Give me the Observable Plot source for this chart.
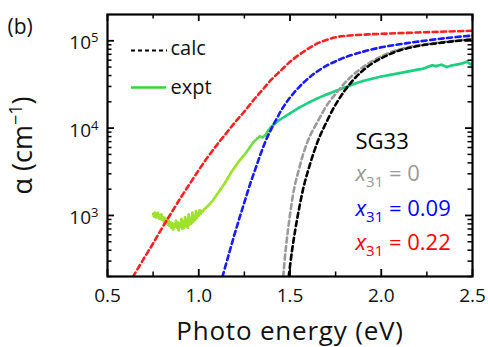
<!DOCTYPE html>
<html>
<head>
<meta charset="utf-8">
<script src="https://cdn.jsdelivr.net/npm/d3@7"></script>
<script src="https://cdn.jsdelivr.net/npm/@observablehq/plot@0.6"></script>
<style>
  html, body { margin: 0; padding: 0; background: white; }
  svg { display: block; }
</style>
</head>
<body>
<div id="chart"></div>
<script>
// ---- Scale domains and tick positions ----
const xDomain = [0.5, 2.5];
const yDomain = [200, 2e5];
const xMajor = [0.5, 1.0, 1.5, 2.0, 2.5];
const xMinor = [0.75, 1.25, 1.75, 2.25];
const yMajor = [1e3, 1e4, 1e5];
const yMinor = [200, 300, 400, 500, 600, 700, 800, 900,
                2000, 3000, 4000, 5000, 6000, 7000, 8000, 9000,
                20000, 30000, 40000, 50000, 60000, 70000, 80000, 90000];

// ---- calc, x31 = 0.22 (red) : photon energy (eV), log10 alpha ----
const redE   = [0.64, 0.70, 0.75, 0.80, 0.85, 0.90, 0.95, 1.00, 1.05, 1.10, 1.15, 1.20, 1.25, 1.30, 1.35, 1.40, 1.45, 1.50, 1.55, 1.60, 1.65, 1.70, 1.75, 1.80, 1.90, 2.00, 2.20, 2.50];
const redLog = [2.30, 2.51, 2.68, 2.86, 3.03, 3.20, 3.36, 3.52, 3.67, 3.81, 3.94, 4.07, 4.19, 4.32, 4.44, 4.56, 4.66, 4.76, 4.84, 4.91, 4.97, 5.01, 5.04, 5.055, 5.07, 5.08, 5.095, 5.115];

// ---- calc, x31 = 0.09 (blue) ----
const blueE   = [1.13, 1.16, 1.19, 1.22, 1.25, 1.28, 1.31, 1.34, 1.37, 1.40, 1.43, 1.46, 1.50, 1.55, 1.60, 1.65, 1.70, 1.75, 1.80, 1.90, 2.00, 2.10, 2.20, 2.35, 2.50];
const blueLog = [2.30, 2.52, 2.74, 2.95, 3.15, 3.35, 3.53, 3.71, 3.87, 4.00, 4.12, 4.23, 4.35, 4.47, 4.57, 4.65, 4.715, 4.765, 4.81, 4.875, 4.925, 4.96, 4.99, 5.03, 5.06];

// ---- calc, x31 = 0 (black and grey) ----
const blackE   = [1.493, 1.51, 1.53, 1.55, 1.575, 1.60, 1.63, 1.66, 1.70, 1.75, 1.80, 1.85, 1.90, 1.95, 2.00, 2.05, 2.10, 2.20, 2.30, 2.40, 2.50];
const blackLog = [2.30, 2.58, 2.85, 3.08, 3.33, 3.52, 3.72, 3.89, 4.07, 4.27, 4.43, 4.56, 4.66, 4.74, 4.80, 4.85, 4.89, 4.94, 4.97, 4.995, 5.015];
const grayE   = [1.463, 1.475, 1.49, 1.505, 1.525, 1.548, 1.575, 1.605, 1.65, 1.705, 1.765, 1.82, 1.875, 1.93, 1.98, 2.03, 2.08, 2.18, 2.30, 2.40, 2.50];
const grayLog = [2.30, 2.58, 2.85, 3.08, 3.33, 3.52, 3.72, 3.89, 4.07, 4.27, 4.43, 4.56, 4.66, 4.74, 4.80, 4.85, 4.89, 4.94, 4.975, 5.00, 5.02];

// ---- expt (green) ----
const exptE = [0.750, 0.755, 0.760, 0.765, 0.770, 0.775, 0.780, 0.785, 0.790, 0.795,
  0.800, 0.805, 0.810, 0.815, 0.820, 0.825, 0.830, 0.835, 0.840, 0.845,
  0.850, 0.855, 0.860, 0.865, 0.870, 0.875, 0.880, 0.885, 0.890, 0.895,
  0.900, 0.905, 0.910, 0.915, 0.920, 0.925, 0.930, 0.935, 0.940, 0.945,
  0.950, 0.955, 0.960, 0.965, 0.970, 0.975, 0.980, 0.985, 0.990, 0.995,
  1.000, 1.005, 1.010, 1.015, 1.020, 1.030, 1.040, 1.050, 1.060, 1.080,
  1.100, 1.120, 1.140, 1.160, 1.180, 1.200, 1.220, 1.240, 1.260, 1.280,
  1.300, 1.320, 1.335, 1.350, 1.365, 1.380, 1.395, 1.410, 1.440, 1.470,
  1.500, 1.550, 1.600, 1.650, 1.700, 1.750, 1.800, 1.850, 1.900, 1.950,
  2.000, 2.050, 2.100, 2.150, 2.200, 2.230, 2.260, 2.280, 2.300, 2.330,
  2.360, 2.390, 2.420, 2.450, 2.470, 2.490, 2.500];
const exptLog = [3.02, 2.99, 3.03, 2.98, 3.01, 3.03, 2.97, 3.00, 2.96, 3.01,
  2.95, 2.98, 2.93, 2.97, 2.92, 2.95, 2.90, 2.94, 2.88, 2.92,
  2.86, 2.91, 2.84, 2.90, 2.87, 2.94, 2.86, 2.92, 2.83, 2.91,
  2.87, 2.96, 2.85, 2.93, 2.86, 2.98, 2.88, 2.95, 2.86, 3.01,
  2.90, 2.97, 2.91, 3.03, 2.93, 2.99, 2.95, 3.05, 2.97, 3.02,
  3.00, 3.06, 3.02, 3.05, 3.04, 3.07, 3.09, 3.11, 3.13, 3.18,
  3.24, 3.30, 3.36, 3.43, 3.50, 3.56, 3.62, 3.67, 3.72, 3.78,
  3.84, 3.88, 3.905, 3.895, 3.92, 3.97, 4.01, 4.04, 4.09, 4.13,
  4.17, 4.235, 4.29, 4.34, 4.385, 4.425, 4.465, 4.505, 4.54, 4.565,
  4.59, 4.61, 4.63, 4.65, 4.67, 4.68, 4.705, 4.72, 4.71, 4.725,
  4.70, 4.72, 4.73, 4.745, 4.76, 4.73, 4.75];

// ---- annotation texts ----
const annoLabels = ["SG33", "x_31 = 0", "x_31 = 0.09", "x_31 = 0.22"];
const annoColors = ["#000000", "#999999", "#0000ff", "#ff0000"];
const legendLabels = ["calc", "expt"];

// ---- build tables ----
const toRows = (E, L) => E.map((e, i) => ({e, a: Math.pow(10, L[i])}));
const red = toRows(redE, redLog);
const blue = toRows(blueE, blueLog);
const black = toRows(blackE, blackLog);
const gray = toRows(grayE, grayLog);
const expt = toRows(exptE, exptLog);

const gLow = "#9ee22e", gHigh = "#1ecf80";
const mix = d3.interpolateRgb(gLow, gHigh);
const colorAt = e => e <= 1.22 ? gLow : e >= 1.46 ? gHigh : mix((e - 1.22) / 0.24);
const exptSegs = expt.slice(1).map((d, i) => ({
  e1: expt[i].e, a1: expt[i].a, e2: d.e, a2: d.a, c: colorAt((expt[i].e + d.e) / 2)
}));

// ---- layout ----
const W = 488, H = 347, mL = 107, mR = 16, mT = 14, mB = 71;
const fw = W - mL - mR, fh = H - mT - mB;
const majLen = 7, minLen = 4.5;

const dash = "5,3.5";
const calcStyle = {x: "e", y: "a", strokeWidth: 2.6, strokeDasharray: dash, curve: "catmull-rom", clip: true};
const tkMaj = {stroke: "black", strokeWidth: 1.8};
const tkMin = {stroke: "black", strokeWidth: 1.5};

const chart = Plot.plot({
  width: W,
  height: H,
  marginLeft: mL,
  marginRight: mR,
  marginTop: mT,
  marginBottom: mB,
  x: {type: "linear", domain: xDomain, axis: null},
  y: {type: "log", domain: yDomain, axis: null},
  color: {type: "identity"},
  style: {fontFamily: "'Open Sans', sans-serif", fontSize: "19px", background: "white", color: "black"},
  marks: [
    // experimental curve
    Plot.link(exptSegs, {x1: "e1", y1: "a1", x2: "e2", y2: "a2", stroke: "c", strokeWidth: 2.6, strokeLinecap: "round", clip: true}),
    // calculated curves
    Plot.line(gray, {...calcStyle, stroke: "#9a9a9a"}),
    Plot.line(black, {...calcStyle, stroke: "#000000"}),
    Plot.line(blue, {...calcStyle, stroke: "#1a1aff"}),
    Plot.line(red, {...calcStyle, stroke: "#ff2020"}),
    Plot.frame({stroke: "black", strokeWidth: 2.2}),
    // inward ticks on all four sides
    Plot.tickX(xMajor, {x: d => d, insetTop: fh - majLen, ...tkMaj}),
    Plot.tickX(xMinor, {x: d => d, insetTop: fh - minLen, ...tkMin}),
    Plot.tickX(xMajor, {x: d => d, insetBottom: fh - majLen, ...tkMaj}),
    Plot.tickX(xMinor, {x: d => d, insetBottom: fh - minLen, ...tkMin}),
    Plot.tickY(yMajor, {y: d => d, insetRight: fw - majLen, ...tkMaj}),
    Plot.tickY(yMinor, {y: d => d, insetRight: fw - minLen, ...tkMin}),
    Plot.tickY(yMajor, {y: d => d, insetLeft: fw - majLen, ...tkMaj}),
    Plot.tickY(yMinor, {y: d => d, insetLeft: fw - minLen, ...tkMin}),
    // tick labels
    Plot.text(xMajor, {x: d => d, frameAnchor: "bottom", dy: 12, lineAnchor: "top", text: d => d.toFixed(1), fontSize: 19, fill: "#111"}),
    Plot.text(yMajor, {y: d => d, frameAnchor: "left", dx: -9, dy: 2.5, textAnchor: "end", lineAnchor: "middle", text: d => "10^" + Math.round(Math.log10(d)), fontSize: 19, fill: "#111"}),
    // axis titles
    Plot.text(["Photo energy (eV)"], {frameAnchor: "bottom", dy: 55, textAnchor: "middle", lineAnchor: "middle", text: d => d, fontSize: 26, fill: "#111"}),
    Plot.text(["α (cm^-1)"], {frameAnchor: "left", dx: -84, rotate: -90, textAnchor: "middle", lineAnchor: "middle", text: d => d, fontSize: 27, fill: "#111"}),
    Plot.text(["(b)"], {frameAnchor: "top-left", dx: -100, dy: 13, textAnchor: "start", lineAnchor: "middle", text: d => d, fontSize: 21, fill: "#111"}),
    // legend samples
    Plot.ruleY([yDomain[1]], {dy: 36, insetLeft: 24, insetRight: fw - 60, stroke: "black", strokeWidth: 2.2, strokeDasharray: "4,3"}),
    Plot.ruleY([yDomain[1]], {dy: 73, insetLeft: 24, insetRight: fw - 59, stroke: "#35d535", strokeWidth: 2.6}),
    Plot.text([legendLabels[0]], {frameAnchor: "top-left", dx: 63, dy: 34.5, textAnchor: "start", lineAnchor: "middle", text: d => d, fontSize: 20, fill: "#111"}),
    Plot.text([legendLabels[1]], {frameAnchor: "top-left", dx: 63, dy: 73.5, textAnchor: "start", lineAnchor: "middle", text: d => d, fontSize: 20, fill: "#111"}),
    // annotations
    Plot.text([annoLabels[0]], {frameAnchor: "top-left", dx: 248, dy: 127.5, textAnchor: "start", lineAnchor: "middle", text: d => d, fontSize: 22, fill: annoColors[0]}),
    Plot.text([annoLabels[1]], {frameAnchor: "top-left", dx: 248, dy: 159.5, textAnchor: "start", lineAnchor: "middle", text: d => d, fontSize: 22, fill: annoColors[1]}),
    Plot.text([annoLabels[2]], {frameAnchor: "top-left", dx: 248, dy: 194.5, textAnchor: "start", lineAnchor: "middle", text: d => d, fontSize: 22, fill: annoColors[2]}),
    Plot.text([annoLabels[3]], {frameAnchor: "top-left", dx: 248, dy: 228.5, textAnchor: "start", lineAnchor: "middle", text: d => d, fontSize: 22, fill: annoColors[3]})
  ]
});

// ---- rich text (superscripts / subscripts) ----
d3.select(chart).selectAll("text").each(function () {
  const t = this.textContent;
  const sel = d3.select(this);
  let m;
  if ((m = /^10\^(\d)$/.exec(t))) {
    sel.text(null);
    sel.append("tspan").text("10");
    sel.append("tspan").attr("dy", "-7px").attr("font-size", "13px").text(m[1]);
  } else if ((m = /^x_31(.*)$/.exec(t))) {
    sel.text(null);
    sel.append("tspan").attr("font-style", "italic").text("x");
    sel.append("tspan").attr("dy", "6px").attr("font-size", "15px").text("31");
    sel.append("tspan").attr("dy", "-6px").text(m[1]);
  } else if (t === "α (cm^-1)") {
    sel.text(null);
    sel.append("tspan").text("α (cm");
    sel.append("tspan").attr("dy", "-10px").attr("font-size", "18px").text("−1");
    sel.append("tspan").attr("dy", "10px").text(")");
  } else if (t === "Photo energy (eV)") {
    sel.attr("letter-spacing", "0.8px");
  }
});

document.getElementById("chart").appendChild(chart);
</script>
</body>
</html>
